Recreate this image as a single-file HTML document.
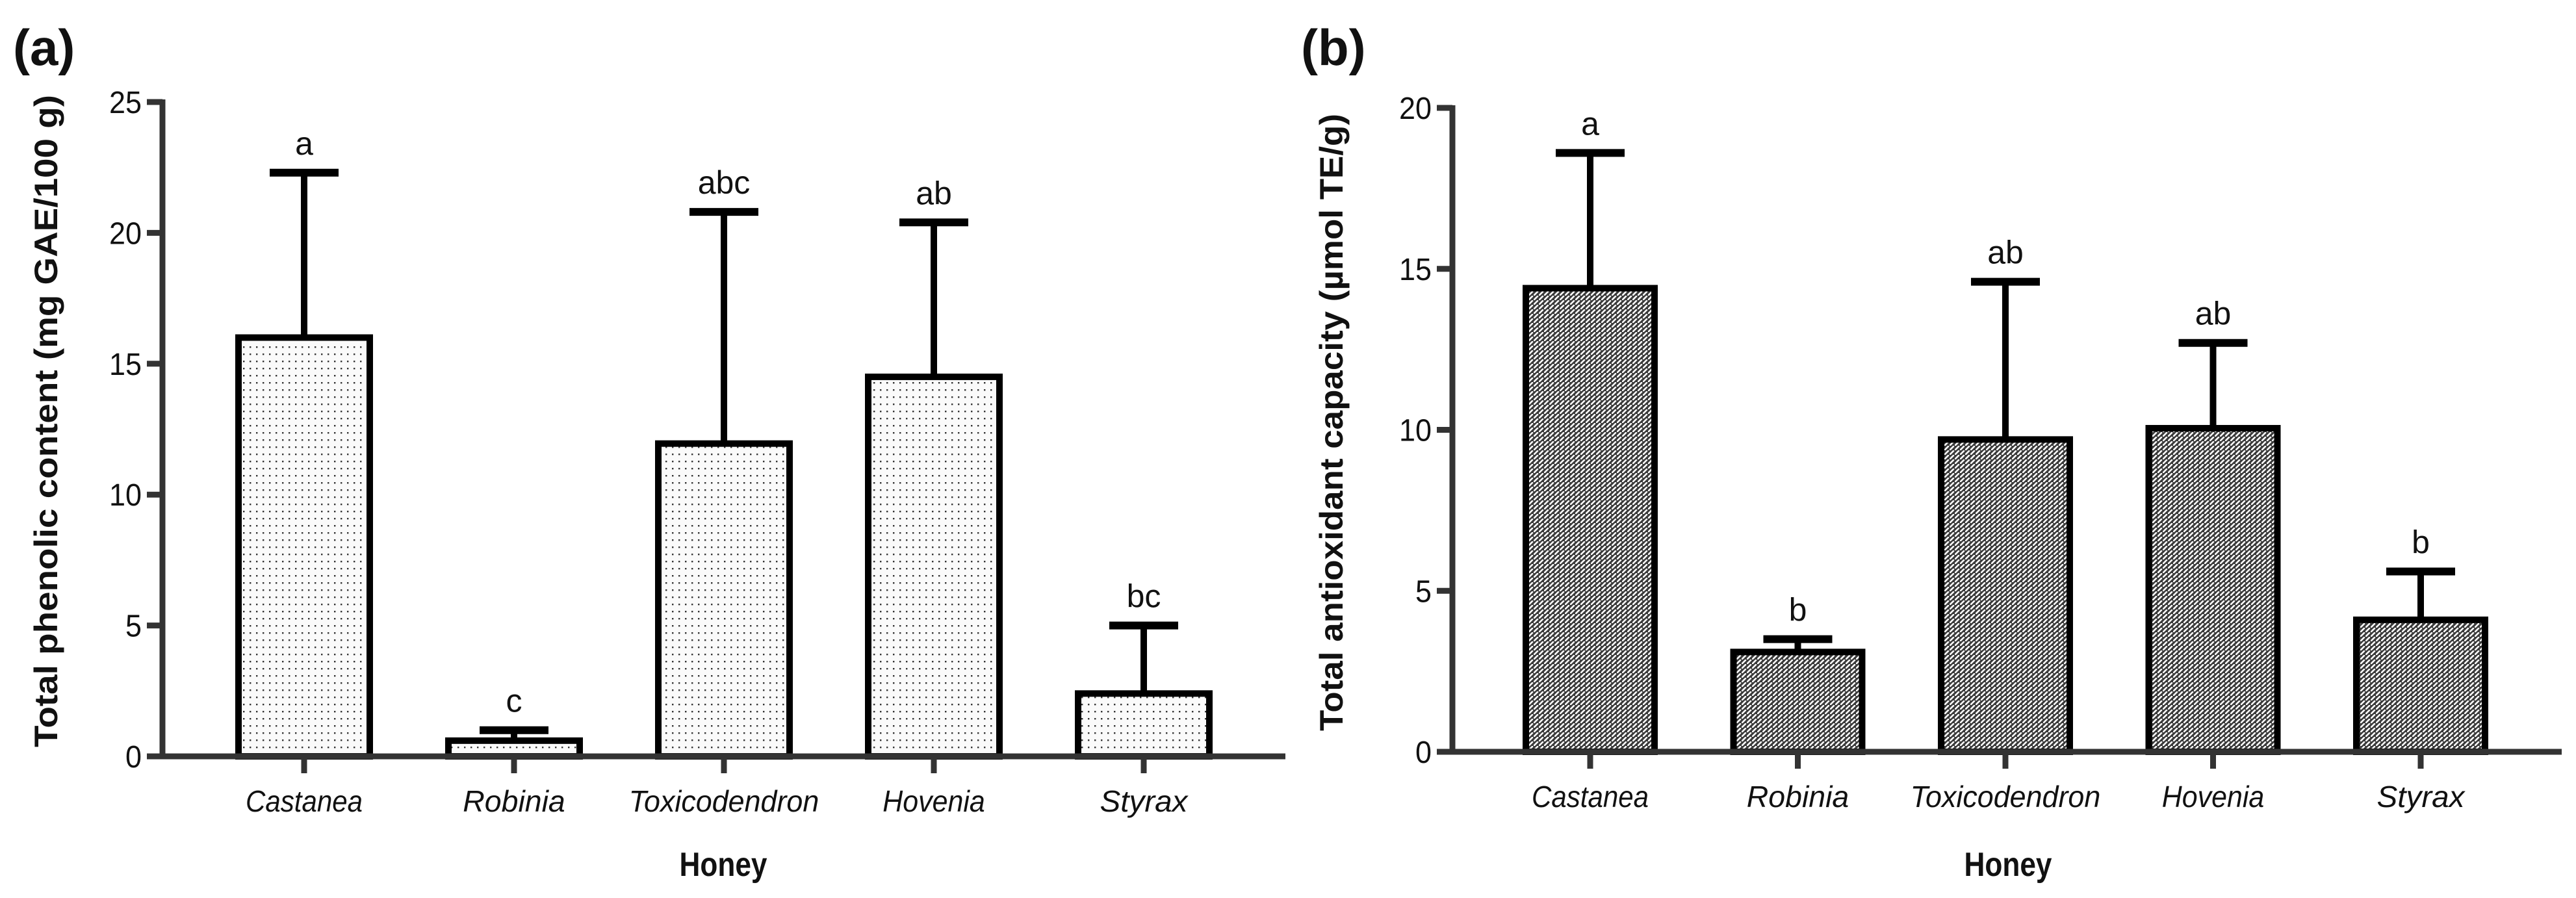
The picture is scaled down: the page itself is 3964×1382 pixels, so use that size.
<!DOCTYPE html>
<html><head><meta charset="utf-8"><style>
html,body{margin:0;padding:0;background:#fff;}
svg{display:block;}
text{font-family:"Liberation Sans",sans-serif;fill:#111;}
</style></head><body>
<svg id="fig" width="3964" height="1382" viewBox="0 0 3964 1382" xmlns="http://www.w3.org/2000/svg">
<defs>
<pattern id="dots" width="10" height="11" patternUnits="userSpaceOnUse">
<rect width="10" height="11" fill="#fafafa"/><rect x="4" y="5" width="2.4" height="2.4" fill="#333"/>
</pattern>
<pattern id="hatch" width="8" height="7" patternUnits="userSpaceOnUse">
<rect width="8" height="7" fill="#3a3a3a"/><line x1="1" y1="6" x2="6" y2="1" stroke="#fff" stroke-width="2.6" stroke-linecap="round"/>
</pattern>
</defs>
<text x="20" y="100" font-size="78" font-weight="bold">(a)</text>
<text x="2002" y="100" font-size="78" font-weight="bold">(b)</text>
<g id="pa"></g>
<g id="pb"></g>
</svg>
<script>
const categories = ["Castanea","Robinia","Toxicodendron","Hovenia","Styrax"];
const phenolMeans = [16.0, 0.6, 11.95, 14.5, 2.4];
const phenolUpper = [22.3, 1.0, 20.8, 20.4, 5.0];
const phenolLetters = ["a","c","abc","ab","bc"];
const phenolTicks = [0,5,10,15,20,25];
const antioxMeans = [14.4, 3.1, 9.7, 10.05, 4.1];
const antioxUpper = [18.6, 3.5, 14.6, 12.7, 5.6];
const antioxLetters = ["a","b","ab","ab","b"];
const antioxTicks = [0,5,10,15,20];

const NS = "http://www.w3.org/2000/svg";
function mk(parent, tag, attrs, txt){
  const e = document.createElementNS(NS, tag);
  for (const k in attrs) e.setAttribute(k, attrs[k]);
  if (txt !== undefined) e.textContent = txt;
  parent.appendChild(e);
  return e;
}

function drawPanel(g, o){
  const yScale = v => o.y0 - (v / o.ymax) * (o.y0 - o.yTop);
  const xScale = i => o.x0c + i * o.step;
  // bars & error bars
  o.means.forEach((m, i) => {
    const cx = xScale(i);
    const eb = mk(g, "line", {x1:cx, x2:cx, y1:yScale(m), y2:yScale(o.upper[i]), stroke:"#000", "stroke-width":10});
    
    
    const cap = mk(g, "line", {x1:cx-53, x2:cx+53, y1:yScale(o.upper[i]), y2:yScale(o.upper[i]), stroke:"#000", "stroke-width":12});
    
    
    const top = yScale(m);
    const bar = mk(g, "rect", {x:cx - o.bw/2 + 5, y:top, width:o.bw - 10, height:o.y0 - top, fill:o.fill, stroke:"#000", "stroke-width":10});
    
    
    const lt = mk(g, "text", {x:cx, y:yScale(o.upper[i]) - 28, "font-size":50, "text-anchor":"middle"}, o.letters[i]);
    
    
    const tk = mk(g, "line", {x1:cx, x2:cx, y1:o.y0, y2:o.y0 + 26, stroke:"#333", "stroke-width":9});
    
    
    const cl = mk(g, "text", {x:cx, y:o.y0 + 85, "font-size":46, "font-style":"italic", "text-anchor":"middle", textLength: categories[i].length * 22.5, lengthAdjust:"spacingAndGlyphs"}, categories[i]);
    
    
  });
  // axes
  const ya = mk(g, "line", {x1:o.ax, x2:o.ax, y1:yScale(o.ymax) - 4, y2:o.y0 + 4, stroke:"#333", "stroke-width":9});
  
  
  const xa = mk(g, "line", {x1:o.ax - 24, x2:o.xEnd, y1:o.y0, y2:o.y0, stroke:"#333", "stroke-width":9});
  
  
  o.ticks.forEach(t => {
    const y = yScale(t);
    const tl = mk(g, "line", {x1:o.ax - 24, x2:o.ax, y1:y, y2:y, stroke:"#333", "stroke-width":9});
    
    
    const tt = mk(g, "text", {x:o.ax - 32, y:y + 17, "font-size":48, "text-anchor":"end", textLength: String(t).length * 25, lengthAdjust:"spacingAndGlyphs"}, String(t));
    
    
  });
  const xt = mk(g, "text", {x:o.xTitleX, y:1348, "font-size":52, "font-weight":"bold", "text-anchor":"middle", textLength:135, lengthAdjust:"spacingAndGlyphs"}, "Honey");
  
  
  const yt = mk(g, "text", {x:0, y:0, "font-size":50, "font-weight":"bold", "text-anchor":"middle", transform:"translate(" + o.yTitleX + "," + o.yTitleY + ") rotate(-90)", textLength:o.yTitleLen, lengthAdjust:"spacingAndGlyphs"}, o.yTitle);
  
  
}

drawPanel(document.getElementById("pa"), {
  means: phenolMeans, upper: phenolUpper, letters: phenolLetters, ticks: phenolTicks,
  ymax: 25, y0: 1164, yTop: 157, ax: 250, xEnd: 1978, x0c: 468, step: 323, bw: 212,
  fill: "url(#dots)", xTitleX: 1113, yTitleX: 88, yTitleY: 648, yTitleLen: 1004,
  yTitle: "Total phenolic content (mg GAE/100 g)"
});
drawPanel(document.getElementById("pb"), {
  means: antioxMeans, upper: antioxUpper, letters: antioxLetters, ticks: antioxTicks,
  ymax: 20, y0: 1157, yTop: 166, ax: 2235, xEnd: 3942, x0c: 2447, step: 319.5, bw: 208,
  fill: "url(#hatch)", xTitleX: 3090, yTitleX: 2066, yTitleY: 650, yTitleLen: 950,
  yTitle: "Total antioxidant capacity (µmol TE/g)"
});
</script>
</body></html>
